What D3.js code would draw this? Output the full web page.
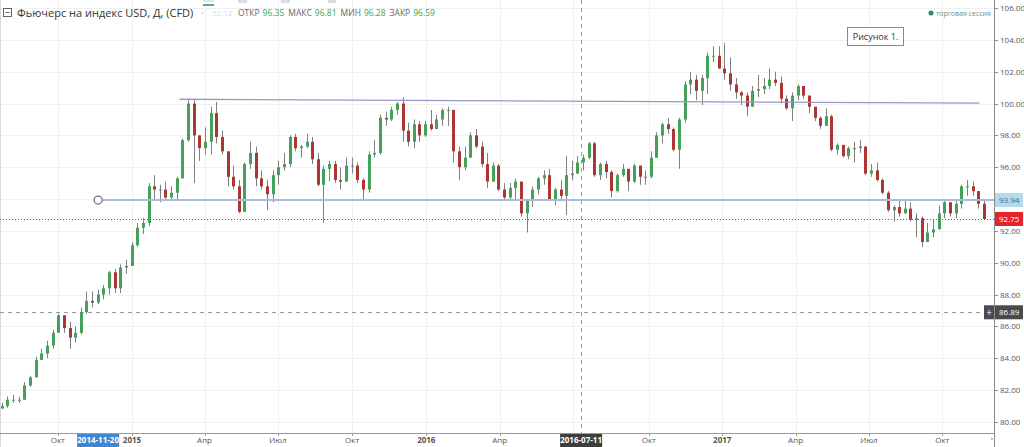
<!DOCTYPE html>
<html><head><meta charset="utf-8">
<script src="https://cdn.jsdelivr.net/npm/d3@7"></script>
<style>
html,body{margin:0;padding:0;background:#fff;}
svg{display:block;font-family:"Open Sans","DejaVu Sans",sans-serif;}
</style></head><body>
<svg id="c" width="1024" height="447"></svg>
<script>
// ---------- DATA (weekly candles) ----------
const firstWeek = "2014-07-21";
const firstOpen = 80.85;
const closes = [
 81.0,81.4,81.4,81.4,82.3,82.8,83.9,84.3,84.8,85.6,86.7,85.9,85.3,85.6,86.9,87.6,87.5,88.0,88.4,89.4,88.4,89.7,89.8,91.1,
 92.2,92.5,94.8,94.6,94.6,94.1,94.4,95.3,97.7,100.0,98.0,97.2,97.6,99.4,97.9,97.0,95.4,94.8,93.2,96.2,96.9,95.3,94.8,94.3,95.5,96.0,96.2,97.9,97.2,97.3,97.6,96.5,94.9,95.9,96.2,95.2,95.1,96.1,96.1,95.2,94.6,96.8,96.9,99.1,99.0,99.6,100.0,98.3,97.6,98.7,98.0,98.7,
 98.4,99.0,99.6,99.6,97.0,96.0,96.6,98.0,97.3,96.2,95.1,96.1,94.6,94.1,94.7,95.1,93.1,93.9,94.6,95.3,95.5,94.0,94.6,94.2,95.5,95.6,96.3,96.6,97.5,95.5,96.2,95.7,94.5,95.5,95.9,95.1,96.1,95.4,95.4,96.6,98.0,98.7,98.4,97.1,99.0,101.2,101.5,100.8,101.6,103.0,103.0,102.2,
 101.9,101.2,100.7,100.5,99.8,100.8,100.9,101.1,101.5,101.3,100.3,99.7,100.5,101.1,100.5,99.8,99.1,98.6,99.2,97.1,97.4,96.7,97.2,97.2,97.3,95.6,95.8,95.2,94.4,93.3,93.5,93.1,93.4,92.7,92.8,91.3,91.9,92.1,93.1,93.8,93.1,93.7,94.8,94.8,94.5,93.7,92.75
];
const highs = [
 81.2,81.6,81.7,81.6,82.5,82.9,84.1,84.6,85.1,85.8,86.8,86.4,86.3,86.0,87.2,88.2,88.2,88.3,88.6,89.5,89.6,89.9,90.2,91.3,
 92.5,92.8,95.0,95.5,94.9,95.1,94.8,95.4,97.8,100.3,100.3,98.0,98.5,99.8,100.1,98.3,97.0,96.1,95.2,96.3,97.6,97.3,95.8,95.2,95.8,96.4,96.9,98.0,98.1,97.4,98.1,97.9,96.9,96.1,96.4,96.4,96.0,96.6,96.6,96.3,95.3,97.0,97.7,99.3,99.5,99.8,100.1,100.4,98.8,99.0,98.9,98.9,
 99.6,99.3,99.7,99.8,99.6,97.3,97.3,98.2,98.4,97.6,96.9,96.3,96.2,95.0,95.0,95.3,95.0,94.0,94.8,95.4,95.8,95.9,94.7,95.2,96.7,96.4,96.7,96.8,97.6,97.6,96.3,96.4,95.8,95.6,96.2,95.9,96.2,96.1,95.8,97.0,98.2,98.8,99.1,98.5,99.1,101.4,102.0,101.8,101.8,103.2,103.6,103.6,
 103.8,102.9,101.6,100.8,100.7,101.1,101.8,101.6,102.2,102.0,101.7,100.5,100.7,101.2,101.1,100.5,99.4,99.2,99.7,99.3,97.5,97.4,97.3,97.6,97.7,97.3,96.2,96.3,95.3,94.5,93.6,93.9,94.0,93.8,93.1,92.9,92.5,92.7,93.6,94.0,93.8,93.9,94.9,95.2,95.1,94.3,93.9
];
const lows = [
 80.8,80.9,81.2,81.2,81.5,82.2,82.8,83.9,84.0,84.6,85.6,85.6,84.6,85.0,85.5,86.8,87.2,87.4,87.7,88.0,88.1,88.1,89.3,89.8,
 91.0,91.8,92.3,94.0,93.8,93.9,93.9,93.9,95.3,97.6,95.0,96.4,96.8,96.8,97.5,96.8,94.8,94.6,93.1,93.2,95.9,94.8,94.6,93.3,93.8,94.9,95.8,96.0,97.0,96.6,97.2,96.2,94.8,92.5,95.1,95.0,94.6,95.2,95.6,95.0,94.0,94.4,96.6,96.8,98.6,98.9,99.3,97.6,97.3,97.2,97.6,97.9,
 98.3,98.4,98.6,98.6,96.3,95.2,95.8,96.7,97.2,96.0,94.7,95.2,94.5,94.0,93.9,93.9,92.9,91.9,93.5,94.3,94.9,93.9,93.6,93.9,93.0,95.2,95.6,95.8,96.5,95.4,95.2,95.3,94.1,94.4,95.4,94.5,95.0,94.9,94.9,95.3,96.6,97.5,98.1,97.0,95.9,98.8,100.6,100.2,99.9,100.6,102.6,102.2,
 101.5,100.8,100.3,99.9,99.2,99.8,100.4,100.6,100.9,101.1,100.0,99.6,98.9,100.2,100.3,99.4,98.9,98.4,98.6,97.0,96.8,96.6,96.5,96.3,96.9,95.5,95.4,95.1,94.3,93.2,92.6,92.9,93.1,92.6,91.6,91.0,91.3,91.6,92.1,92.8,92.9,92.8,93.4,94.2,94.2,93.4,92.7
];
const yTicks = [80,82,84,86,88,90,92,96,98,100,102,104,106];
const gridY = [80,82,84,86,88,90,92,94,96,98,100,102,104,106];
const xTickDates = ["2014-10-01","2015-01-01","2015-04-01","2015-07-01","2015-10-01","2016-01-01","2016-04-01","2016-07-01","2016-10-03","2017-01-02","2017-04-03","2017-07-03","2017-10-02"];
const xTickLabels = ["Окт","2015","Апр","Июл","Окт","2016","Апр","","Окт","2017","Апр","Июл","Окт"];
const trendStart = ["2015-03-01", 100.27];
const trendEnd = ["2017-11-17", 100.02];
const supportStart = ["2014-11-20", 93.94];
const lastPrice = 92.75;
const crossDate = "2016-07-11";
const crossPrice = 86.89;
const ohlcNames = ["ОТКР","МАКС","МИН","ЗАКР"];
const ohlcValues = ["96.35","96.81","96.28","96.59"];

// ---------- SCALES ----------
const W = 1024, H = 447, plotR = 994, axisY = 433;
const parse = d3.utcParse("%Y-%m-%d");
const ref = Date.UTC(2015,0,1), pxPerDay = 0.8063, dayMs = 864e5;
const x = d3.scaleUtc()
  .domain([new Date(ref - 132/pxPerDay*dayMs), new Date(ref + (plotR-132)/pxPerDay*dayMs)])
  .range([0, plotR]);
const y = d3.scaleLinear().domain([80,106]).range([422,8]);

const svg = d3.select("#c");
svg.append("rect").attr("width",W).attr("height",H).attr("fill","#fff");

// grid
const g = svg.append("g");
g.selectAll(".gx").data(xTickDates).join("line")
  .attr("x1",d=>Math.round(x(parse(d)))+0.5).attr("x2",d=>Math.round(x(parse(d)))+0.5)
  .attr("y1",0).attr("y2",axisY).attr("stroke","#eef0f2");
g.selectAll(".gy").data(gridY).join("line")
  .attr("x1",0).attr("x2",plotR).attr("y1",d=>Math.round(y(d))+0.5).attr("y2",d=>Math.round(y(d))+0.5)
  .attr("stroke","#eef0f2");
svg.append("line").attr("x1",0.5).attr("x2",0.5).attr("y1",0).attr("y2",H).attr("stroke","#d8d8d8");

// crosshair
svg.append("line").attr("x1",Math.round(x(parse(crossDate)))+0.5).attr("x2",Math.round(x(parse(crossDate)))+0.5)
  .attr("y1",0).attr("y2",axisY).attr("stroke","#9a9a9a").attr("stroke-dasharray","4,4");
svg.append("line").attr("x1",0).attr("x2",plotR).attr("y1",Math.round(y(crossPrice))+0.5).attr("y2",Math.round(y(crossPrice))+0.5)
  .attr("stroke","#9a9a9a").attr("stroke-dasharray","4,4");

// candles
const t0 = parse(firstWeek);
const candles = closes.map((c,i)=>{
  const d = d3.utcMonday.offset(t0, i);
  const o = i===0 ? firstOpen : closes[i-1];
  return {d, o, h:highs[i], l:lows[i], c};
});
const cx = d => Math.round(x(new Date(+d.d+2.5*dayMs)));
const cg = svg.append("g");
cg.selectAll(".wick").data(candles).join("line")
  .attr("x1",d=>cx(d)+0.5).attr("x2",d=>cx(d)+0.5)
  .attr("y1",d=>y(Math.max(d.h,d.o,d.c))).attr("y2",d=>y(Math.min(d.l,d.o,d.c)))
  .attr("stroke","#808080").attr("stroke-width",1);
cg.selectAll(".body").data(candles).join("rect")
  .attr("x",d=>cx(d)-1).attr("width",3)
  .attr("y",d=>y(Math.max(d.o,d.c)))
  .attr("height",d=>Math.max(1,Math.abs(y(d.o)-y(d.c))))
  .attr("fill",d=>d.c>=d.o?"#45a05a":"#ad3631");

// drawings
svg.append("line")
  .attr("x1",x(parse(trendStart[0]))).attr("y1",y(trendStart[1]))
  .attr("x2",x(parse(trendEnd[0]))).attr("y2",y(trendEnd[1]))
  .attr("stroke","#9898c4").attr("stroke-width",1.3);
const sx = x(parse(supportStart[0])), sy = y(supportStart[1]);
svg.append("line").attr("x1",sx+4).attr("x2",plotR).attr("y1",sy).attr("y2",sy)
  .attr("stroke","#a5bbe0").attr("stroke-width",2);
svg.append("circle").attr("cx",sx).attr("cy",sy).attr("r",4)
  .attr("fill","#fff").attr("stroke","#777").attr("stroke-width",1.3);
svg.append("line").attr("x1",0).attr("x2",plotR).attr("y1",Math.round(y(lastPrice))+0.5).attr("y2",Math.round(y(lastPrice))+0.5)
  .attr("stroke","#c0392b").attr("stroke-dasharray","1,2");

// right axis
svg.append("line").attr("x1",plotR+0.5).attr("x2",plotR+0.5).attr("y1",0).attr("y2",H).attr("stroke","#8a8a8a");
const ra = svg.append("g").attr("font-size",8).attr("fill","#555");
ra.selectAll("line").data(yTicks).join("line")
  .attr("x1",plotR).attr("x2",plotR+4).attr("y1",d=>Math.round(y(d))+0.5).attr("y2",d=>Math.round(y(d))+0.5).attr("stroke","#8a8a8a");
ra.selectAll("text").data(yTicks).join("text")
  .attr("x",plotR+6).attr("y",d=>y(d)+3).text(d=>d.toFixed(2));

function priceTag(v, fill, color){
  const yy = y(v);
  svg.append("rect").attr("x",plotR+1).attr("y",yy-7).attr("width",28).attr("height",14).attr("fill",fill);
  svg.append("text").attr("x",plotR+5).attr("y",yy+3).attr("font-size",8).attr("fill",color).text(v.toFixed(2));
}
priceTag(supportStart[1], "#b9d7ea", "#2d6f8c");
priceTag(lastPrice, "#e3262a", "#fff");
priceTag(crossPrice, "#4a4a4a", "#fff");
svg.append("rect").attr("x",plotR-10).attr("y",y(crossPrice)-7).attr("width",10).attr("height",14).attr("fill","#4a4a4a");
svg.append("text").attr("x",plotR-5).attr("y",y(crossPrice)+3.5).attr("text-anchor","middle").attr("font-size",10).attr("fill","#fff").text("+");

// bottom axis
svg.append("line").attr("x1",0).attr("x2",plotR).attr("y1",axisY+0.5).attr("y2",axisY+0.5).attr("stroke","#9a9a9a");
const ba = svg.append("g").attr("font-size",8).attr("fill","#555");
ba.selectAll("line").data(xTickDates).join("line")
  .attr("x1",d=>Math.round(x(parse(d)))+0.5).attr("x2",d=>Math.round(x(parse(d)))+0.5)
  .attr("y1",axisY).attr("y2",axisY+3).attr("stroke","#9a9a9a");
ba.selectAll("text").data(xTickDates).join("text")
  .attr("x",d=>x(parse(d))).attr("y",axisY+10).attr("text-anchor","middle")
  .attr("font-weight",(d,i)=>/^\d/.test(xTickLabels[i])?"bold":"normal")
  .text((d,i)=>xTickLabels[i]);
function dateTag(ds, fill){
  const xx = x(parse(ds));
  svg.append("rect").attr("x",xx-21).attr("y",axisY+1).attr("width",42).attr("height",13).attr("fill",fill);
  svg.append("text").attr("x",xx).attr("y",axisY+10).attr("text-anchor","middle").attr("font-size",8)
    .attr("font-weight","bold").attr("fill","#fff").text(ds);
}
dateTag(supportStart[0], "#3f88d0");
dateTag(crossDate, "#3d3d3d");
svg.append("circle").attr("cx",992).attr("cy",439).attr("r",1).attr("fill","#aaa");

// header
const hd = svg.append("g");
hd.append("rect").attr("x",3.5).attr("y",8.5).attr("width",8).attr("height",8).attr("fill","none").attr("stroke","#666");
hd.append("line").attr("x1",5.5).attr("x2",9.5).attr("y1",12.5).attr("y2",12.5).attr("stroke","#666");
hd.append("text").attr("x",17).attr("y",17).attr("font-size",11).attr("fill","#333")
  .text("Фьючерс на индекс USD, Д, (CFD)");
hd.append("text").attr("x",201).attr("y",16).attr("font-size",8).attr("fill","#ccc").text("•");
hd.append("text").attr("x",212).attr("y",16).attr("font-size",8).attr("fill","#ddd").text("52.12");
let tx = 238;
ohlcNames.forEach((n,i)=>{
  const a = hd.append("text").attr("x",tx).attr("y",16).attr("font-size",8.5).attr("fill","#666").text(n);
  tx += a.node().getComputedTextLength() + 3;
  const b = hd.append("text").attr("x",tx).attr("y",16).attr("font-size",8.5).attr("fill","#2fae4f").text(ohlcValues[i]);
  tx += b.node().getComputedTextLength() + 4;
});
// toolbar remnants
[[203,0,11,2,"#e4e4e4"],[203,4,11,2,"#5aa89a"],[238,0,9,3,"#ddd"],[281,0,9,3,"#ddd"],[328,0,8,3,"#ddd"]].forEach(r=>{
  hd.append("rect").attr("x",r[0]).attr("y",r[1]).attr("width",r[2]).attr("height",r[3]).attr("fill",r[4]);
});

// legend
svg.append("circle").attr("cx",931).attr("cy",13).attr("r",2.5).attr("fill","#2e8b62");
svg.append("text").attr("x",936).attr("y",16).attr("font-size",7).attr("fill","#6f8f86").text("торговая сессия");

// note box
svg.append("rect").attr("x",847.5).attr("y",27.5).attr("width",56).attr("height",18).attr("fill","#fff").attr("stroke","#8a8a8a");
svg.append("text").attr("x",875.5).attr("y",40).attr("text-anchor","middle").attr("font-size",9).attr("fill","#333").text("Рисунок 1.");
</script>
</body></html>
